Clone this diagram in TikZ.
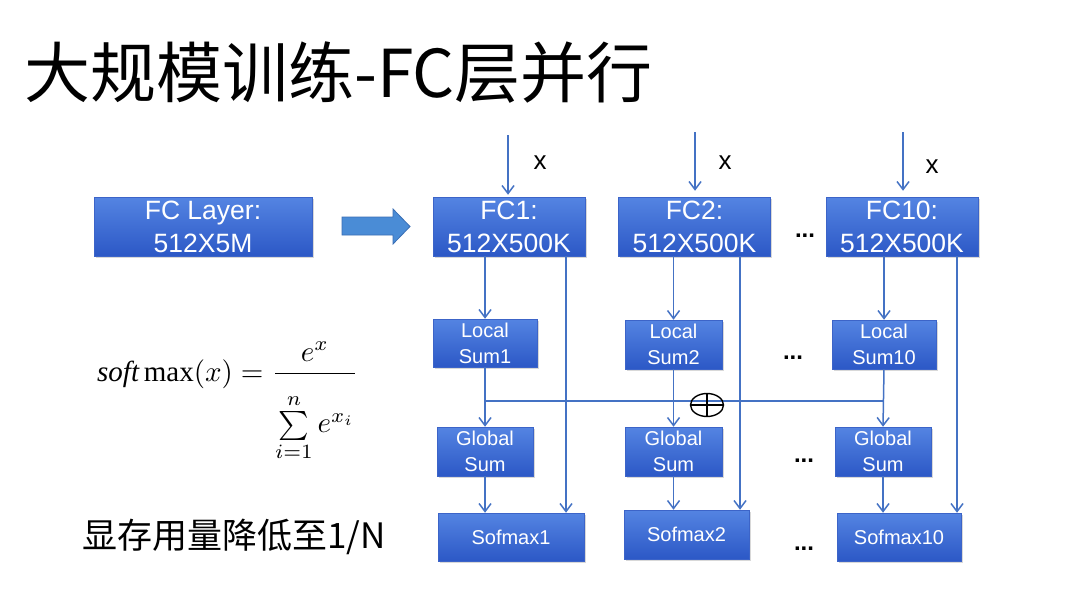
\documentclass[tikz,border=0pt]{standalone}
\usepackage{graphicx}
\usepackage{fontspec}
\setmainfont{Liberation Sans}
\setmathrm{Liberation Serif}
\newfontfamily\cjk{Noto Sans CJK SC}
\newfontfamily\tms{Liberation Serif}
\usetikzlibrary{arrows.meta,shadows,shapes.geometric,calc}
\definecolor{boxtop}{RGB}{84,132,226}
\definecolor{boxbot}{RGB}{44,88,198}
\definecolor{boxedge}{RGB}{60,100,200}
\definecolor{linec}{RGB}{68,114,196}
\definecolor{arrowfill}{RGB}{74,140,214}
\definecolor{arrowline}{RGB}{58,110,180}
\tikzset{
  bbox/.style={top color=boxtop,bottom color=boxbot,draw=boxedge,line width=0.5pt,
    inner sep=0pt,align=center,text=white,
    drop shadow={shadow xshift=1.5pt,shadow yshift=-2pt,opacity=0.3}},
  fcbox/.style={bbox,minimum width=152pt,minimum height=59pt,font=\fontsize{26.5}{33}\selectfont},
  smallbox/.style={bbox,font=\fontsize{20}{26}\selectfont},
  conn/.style={draw=linec,line width=1.5pt,-{Straight Barb[length=8pt,width=12pt]}},
  plainline/.style={draw=linec,line width=1.5pt},
  xlab/.style={anchor=base,inner sep=0pt,font=\fontsize{26}{26}\selectfont},
  dotlab/.style={anchor=base,inner sep=0pt,font=\bfseries\fontsize{24}{24}\selectfont},
  plusnode/.style={ellipse,draw=black,line width=1.4pt,minimum width=33pt,minimum height=23pt,inner sep=0pt,
    path picture={\draw[black,line width=1.4pt] (path picture bounding box.north) -- (path picture bounding box.south)
      (path picture bounding box.west) -- (path picture bounding box.east);}}
}
\begin{document}
\begin{tikzpicture}[x=1pt,y=-1pt]
\useasboundingbox (0,0) rectangle (1073,602);
\fill[white] (0,0) rectangle (1073,602);

% title
\node[anchor=base west,inner sep=0pt] (title) at (24,97) {\cjk\fontsize{66}{66}\selectfont 大规模训练-FC层并行};

% FC layer and block arrow
\node[fcbox,minimum width=218pt] (fcl) at (203,226.5) {FC Layer:\\512X5M};
\filldraw[fill=arrowfill,draw=arrowline,line width=0.8pt]
  (342,217) -- (393,217) -- (393,209) -- (410,226.5) -- (393,244) -- (393,235) -- (342,235) -- cycle;

% FC boxes
\node[fcbox] (fc1) at (509,226.5) {FC1:\\512X500K};
\node[fcbox] (fc2) at (694.5,226.5) {FC2:\\512X500K};
\node[fcbox] (fc10) at (902,226.5) {FC10:\\512X500K};

% local sums
\node[smallbox,minimum width=104pt,minimum height=48pt] (ls1) at (485,343) {Local\\Sum1};
\node[smallbox,minimum width=97pt,minimum height=49pt] (ls2) at (673.5,344.5) {Local\\Sum2};
\node[smallbox,minimum width=104pt,minimum height=49pt] (ls10) at (884,344.5) {Local\\Sum10};

% global sums
\node[smallbox,minimum width=96pt,minimum height=49pt] (gs1) at (485,451.5) {Global\\Sum};
\node[smallbox,minimum width=97pt,minimum height=49pt] (gs2) at (673.5,451.5) {Global\\Sum};
\node[smallbox,minimum width=96pt,minimum height=49pt] (gs10) at (883,451.5) {Global\\Sum};

% softmax boxes
\node[smallbox,minimum width=146pt,minimum height=48pt] (sm1) at (511,537) {Sofmax1};
\node[smallbox,minimum width=125pt,minimum height=49pt] (sm2) at (686.5,534.5) {Sofmax2};
\node[smallbox,minimum width=124pt,minimum height=48pt] (sm10) at (899,537) {Sofmax10};

% inputs
\coordinate (in1) at (508,135);
\coordinate (in2) at (695,132);
\coordinate (in10) at (903,132);
\draw[conn,shorten >=2pt] (in1) -- (in1 |- fc1.north);
\draw[conn,shorten >=6pt] (in2) -- (in2 |- fc2.north);
\draw[conn,shorten >=6pt] (in10) -- (in10 |- fc10.north);
\node[xlab] (x1) at (540,169) {x};
\node[xlab] (x2) at (725,169) {x};
\node[xlab] (x10) at (932,173) {x};

% FC -> local sum
\draw[conn] (ls1.north |- fc1.south) -- (ls1.north);
\draw[conn] (ls2.north |- fc2.south) -- (ls2.north);
\draw[conn] (ls10.north |- fc10.south) -- (ls10.north);

% local -> global
\draw[conn] (ls1.south) -- (gs1.north);
\draw[conn] (ls2.south) -- (gs2.north);
\draw[conn] (ls10.south) -- (gs10.north);

% global -> softmax
\draw[conn] (gs1.south) -- (gs1.south |- sm1.north);
\draw[conn] (gs2.south) -- (gs2.south |- sm2.north);
\draw[conn] (gs10.south) -- (gs10.south |- sm10.north);

% FC -> softmax long lines
\draw[conn] ([xshift=57pt]fc1.south) -- ([xshift=57pt]fc1.south |- sm1.north);
\draw[conn] ([xshift=45.5pt]fc2.south) -- ([xshift=45.5pt]fc2.south |- sm2.north);
\draw[conn] ([xshift=55pt]fc10.south) -- ([xshift=55pt]fc10.south |- sm10.north);

% all-reduce bar
\coordinate (hb1) at (485,401);
\coordinate (hb10) at (884,401);
\draw[plainline] (hb1) -- (hb10);
\node[plusnode] (plus) at (707,405) {};

% dots
\node[dotlab] (d1) at (805,237) {...};
\node[dotlab] (d2) at (793,359) {...};
\node[dotlab] (d3) at (804,462) {...};
\node[dotlab] (d4) at (804,550) {...};

% formula
\node[anchor=base west,inner sep=0pt] (formula) at (97,381)
  {\scalebox{2.9}{$\displaystyle \mbox{\tms\itshape soft}\,\mathrm{max}(x)=\frac{e^{x}}{\raisebox{-5.5pt}[\height]{$\textstyle\sum\limits_{i=1}^{n}e^{x_i}$}}$}};

% note
\node[anchor=base west,inner sep=0pt] (note) at (82,548) {\cjk\fontsize{35}{35}\selectfont 显存用量降低至1/N};
\end{tikzpicture}
\end{document}
